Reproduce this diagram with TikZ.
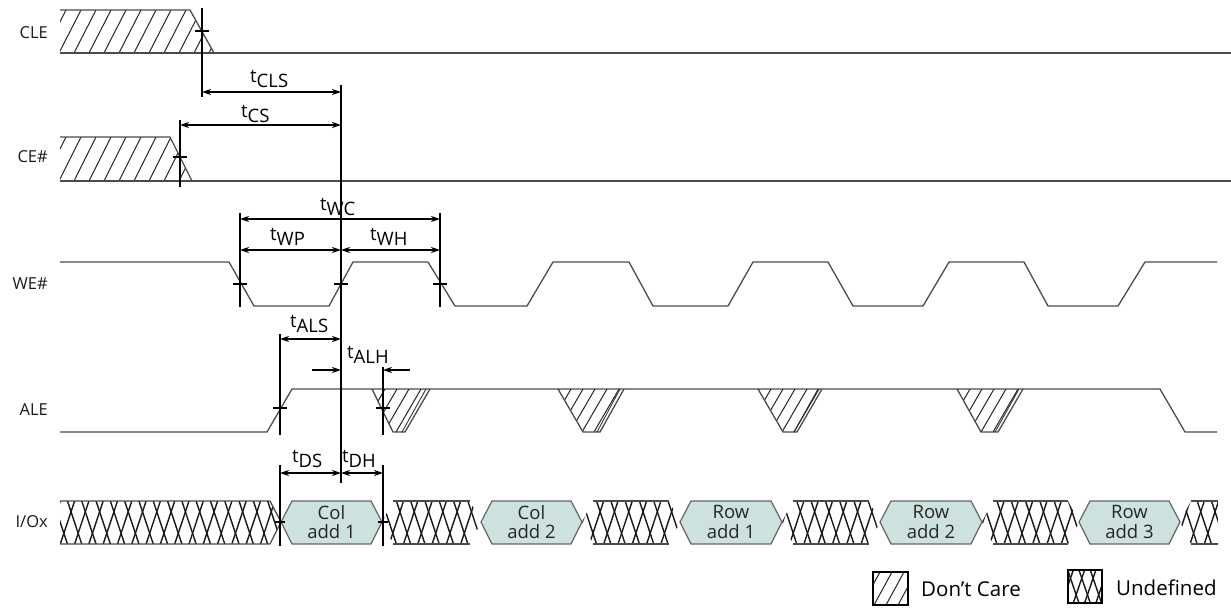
\documentclass[tikz,border=0pt]{standalone}
\usepackage{fontspec}
\setmainfont{Open Sans}
\usetikzlibrary{arrows.meta}
\newcommand\tlab[1]{t\raisebox{-5pt}{#1}}
\begin{document}
\begin{tikzpicture}[x=1pt,y=-1pt,
  wave/.style={draw=black!70, line width=1.3pt, line join=miter},
  tim/.style={draw=black, line width=1.3pt},
  dimline/.style={draw=black, line width=1.2pt, {Stealth[length=9pt,width=6pt]}-{Stealth[length=9pt,width=6pt]}},
  dimhalf/.style={draw=black, line width=1.2pt, -{Stealth[length=9pt,width=6pt]}},
  sig/.style={font=\fontsize{16.5}{16}\selectfont, text=black!90, anchor=east, inner sep=0pt},
  tl/.style={font=\fontsize{18.5}{18}\selectfont, text=black, inner sep=0pt, anchor=base west},
  hexlbl/.style={font=\fontsize{18.5}{19.5}\selectfont, align=center, text=black!85, inner sep=0pt},
  leg/.style={font=\fontsize{20.5}{20}\selectfont, text=black, inner sep=0pt, anchor=west},
  hatchl/.style={draw=black!85, line width=1pt},
  xh/.style={draw=black!90, line width=1.4pt},
  hexbox/.style={draw=black!60, line width=1.2pt, fill={rgb,255:red,205;green,225;blue,222}},
]
\useasboundingbox (0,0) rectangle (1231,608);

% ---------------- signal labels
\node[sig] (lcle) at (48,33) {CLE};
\node[sig] (lce) at (48,157) {CE\#};
\node[sig] (lwe) at (48,284) {WE\#};
\node[sig] (lale) at (48,410) {ALE};
\node[sig] (lio) at (48,522) {I/Ox};

% ---------------- CLE
\begin{scope}
\clip (60,10) -- (190,10) -- (214,53) -- (60,53) -- cycle;
\foreach \i in {0,...,11} \draw[hatchl] ({44+\i*15},53) -- ({44+\i*15+22},10);
\end{scope}
\draw[wave] (60,10) -- (190,10) -- (214,53);
\draw[wave] (60,53) -- (1231,53);

% ---------------- CE#
\begin{scope}
\clip (60,137) -- (170,137) -- (192,181) -- (60,181) -- cycle;
\foreach \i in {0,...,10} \draw[hatchl] ({44+\i*15},181) -- ({44+\i*15+22},137);
\end{scope}
\draw[wave] (60,137) -- (170,137) -- (192,181);
\draw[wave] (60,181) -- (1231,181);

% ---------------- WE#
\draw[wave] (60,262) -- (229,262) -- (254,306) -- (329,306) -- (353,262) -- (428,262)
  -- (455,306) -- (527,306) -- (553,262) -- (629,262) -- (653,306) -- (728,306)
  -- (753,262) -- (828,262) -- (853,306) -- (923,306) -- (949,262) -- (1024,262)
  -- (1048,306) -- (1118,306) -- (1145,262) -- (1217,262);

% ---------------- ALE
\draw[wave] (60,432) -- (267,432) -- (292,389) -- (1160,389) -- (1185,432) -- (1217,432);
\foreach \a/\b/\c/\d in {372/430/405/393, 558/624/600/583, 758/822/797/783, 957/1023/998/981}{
  \begin{scope}
  \clip (\a,389) -- (\b,389) -- (\c,432) -- (\d,432) -- cycle;
  \foreach \i in {0,...,7} \draw[hatchl] ({\a-24+\i*12},432) -- ({\a-24+\i*12+25},389);
  \end{scope}
  \draw[wave] (\a,389) -- (\d,432) -- (\c,432) -- (\b,389);
  \draw[hatchl, line width=0.8pt] ({\b-4},389) -- ({\c-3},432);
}

% ---------------- I/Ox
\begin{scope}
\clip (60,501) -- (270,501) -- (281,522) -- (270,544) -- (60,544) -- cycle
  (382,522) -- (393,501) -- (470,501) -- (481,522) -- (470,544) -- (393,544) -- cycle
  (582,522) -- (593,501) -- (669,501) -- (680,522) -- (669,544) -- (593,544) -- cycle
  (782,522) -- (793,501) -- (869,501) -- (880,522) -- (869,544) -- (793,544) -- cycle
  (982,522) -- (993,501) -- (1068,501) -- (1079,522) -- (1068,544) -- (993,544) -- cycle
  (1180,522) -- (1191,501) -- (1218,501) -- (1218,544) -- (1191,544) -- cycle;
\foreach \i in {0,...,82} {
  \draw[xh] ({46+\i*14.3},544) -- ({46+\i*14.3+14.3},501);
  \draw[xh] ({46+7.15+\i*14.3},544) -- ({46+7.15+\i*14.3-14.3},501);
}
\end{scope}
\draw[wave] (60,501) -- (270,501) -- (281,522) -- (270,544) -- (60,544);
\draw[wave] (393,501) -- (470,501) (393,544) -- (470,544);
\draw[wave] (593,501) -- (669,501) (593,544) -- (669,544);
\draw[wave] (793,501) -- (869,501) (793,544) -- (869,544);
\draw[wave] (993,501) -- (1068,501) (993,544) -- (1068,544);
\draw[wave] (1191,501) -- (1218,501) (1191,544) -- (1218,544);
\foreach \p/\q/\nm/\txt in {281/382/h1/{Col\\add 1}, 481/582/h2/{Col\\add 2}, 680/782/h3/{Row\\add 1}, 880/982/h4/{Row\\add 2}, 1079/1180/h5/{Row\\add 3}}{
  \draw[hexbox] (\p,522) -- ({\p+11},501) -- ({\q-11},501) -- (\q,522) -- ({\q-11},544) -- ({\p+11},544) -- cycle;
  \node[hexlbl] (\nm) at ({(\p+\q)/2},522) {\txt};
}

% ---------------- timing reference lines
\coordinate (mtop) at (341,85);
\coordinate (mbot) at (341,483);
\draw[tim] (mtop) -- (mbot);
% CLE tick
\draw[tim] (202,8) -- (202,97);
\draw[tim] (195,31) -- (209,31);
% CE# tick
\draw[tim] (180,120) -- (180,187);
\draw[tim] (173,157) -- (187,157);
% WE# ticks
\draw[tim] (240,213) -- (240,307);
\draw[tim] (440,213) -- (440,307);
\foreach \x in {240,341,440} \draw[tim] ({\x-7},284) -- ({\x+7},284);
% ALE ticks
\draw[tim] (280,334) -- (280,435);
\draw[tim] (383,367) -- (383,435);
\foreach \x in {280,383} \draw[tim] ({\x-7},408) -- ({\x+7},408);
% I/O ticks
\draw[tim] (280,465) -- (280,546);
\draw[tim] (383,465) -- (383,546);
\foreach \x in {280,383} \draw[tim] ({\x-5},522) -- ({\x+5},522);

% ---------------- dimension arrows
\coordinate (clsA) at (202,92);  \coordinate (clsB) at (341,92);
\coordinate (csA) at (180,125);  \coordinate (csB) at (341,125);
\coordinate (wcA) at (240,219);  \coordinate (wcB) at (440,219);
\coordinate (wpA) at (240,250);  \coordinate (wpB) at (341,250); \coordinate (whB) at (440,250);
\coordinate (alsA) at (280,339); \coordinate (alsB) at (341,339);
\coordinate (alhA) at (312,370); \coordinate (alhB) at (341,370);
\coordinate (alhC) at (410,370); \coordinate (alhD) at (383,370);
\coordinate (dsA) at (280,473);  \coordinate (dsB) at (341,473); \coordinate (dhB) at (383,473);
\draw[dimline] (clsA) -- (clsB);
\draw[dimline] (csA) -- (csB);
\draw[dimline] (wcA) -- (wcB);
\draw[dimline] (wpA) -- (wpB);
\draw[dimline] (wpB) -- (whB);
\draw[dimline] (alsA) -- (alsB);
\draw[dimhalf] (alhA) -- (alhB);
\draw[dimhalf] (alhC) -- (alhD);
\draw[dimline] (dsA) -- (dsB);
\draw[dimline] (dsB) -- (dhB);

% ---------------- timing labels
\node[tl] (tcls) at (250,82) {\tlab{CLS}};
\node[tl] (tcs) at (241,117) {\tlab{CS}};
\node[tl] (twc) at (320,210) {\tlab{WC}};
\node[tl] (twp) at (270,240) {\tlab{WP}};
\node[tl] (twh) at (370,240) {\tlab{WH}};
\node[tl] (tals) at (290,327) {\tlab{ALS}};
\node[tl] (talh) at (347,358) {\tlab{ALH}};
\node[tl] (tds) at (292,462) {\tlab{DS}};
\node[tl] (tdh) at (342,462) {\tlab{DH}};

% ---------------- legend
\begin{scope}
\clip (873,572) rectangle (908,605);
\foreach \i in {0,...,3} \draw[hatchl] ({862+\i*12},605) -- ({862+\i*12+18},572);
\end{scope}
\draw[draw=black, line width=1.3pt] (873,572) rectangle (908,605);
\node[leg] (ldc) at (921,589) {Don’t Care};
\begin{scope}
\clip (1068,570) rectangle (1102,603);
\foreach \i in {0,...,4} {
  \draw[xh] ({1062+\i*11.3},603) -- ({1062+\i*11.3+11.3},570);
  \draw[xh] ({1062+5.65+\i*11.3},603) -- ({1062+5.65+\i*11.3-11.3},570);
}
\end{scope}
\draw[draw=black, line width=1.3pt] (1068,570) rectangle (1102,603);
\node[leg] (lud) at (1116,588) {Undefined};
\end{tikzpicture}
\end{document}
